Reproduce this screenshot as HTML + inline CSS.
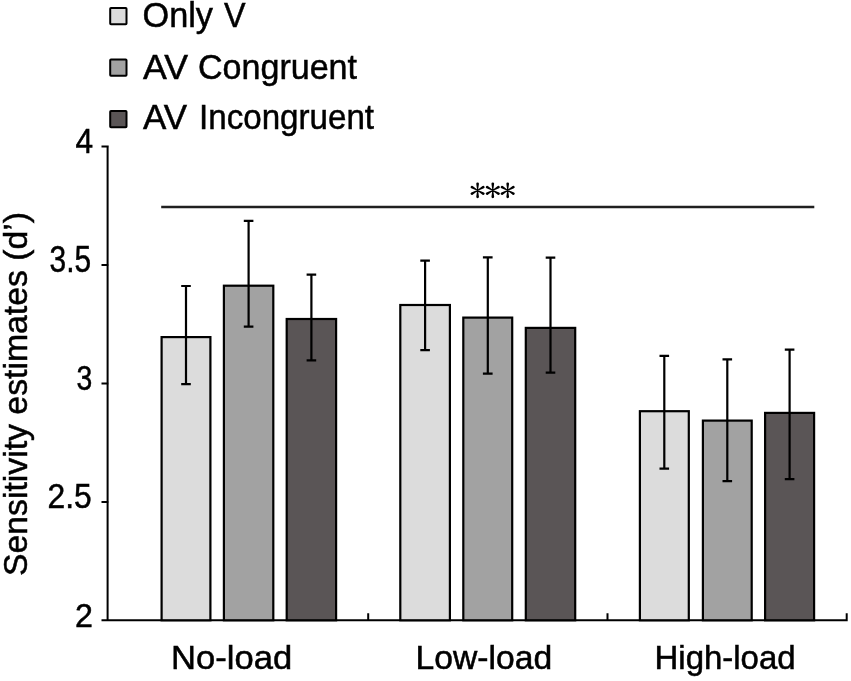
<!DOCTYPE html>
<html><head><meta charset="utf-8"><style>
html,body{margin:0;padding:0;background:#fff;}
svg{display:block;will-change:transform;}
text{font-family:"Liberation Sans",sans-serif;fill:#000;stroke:#000;stroke-width:0.5px;}
</style></head><body>
<svg width="851" height="681" viewBox="0 0 851 681">
<rect x="0" y="0" width="851" height="681" fill="#fff"/>
<rect x="110.2" y="7.9" width="16.3" height="16.3" fill="#dcdcdc" stroke="#000" stroke-width="2" rx="0.8"/>
<rect x="110.2" y="59.4" width="16.3" height="16.3" fill="#a2a2a2" stroke="#000" stroke-width="2" rx="0.8"/>
<rect x="110.2" y="110.9" width="16.3" height="16.3" fill="#5a5556" stroke="#000" stroke-width="2" rx="0.8"/>
<path d="M107.6 146.4V621.3M101.5 620.3H847.7M368.2 613.3V620M607.5 613.3V620M846.7 613.3V620M101.5 146.4H108.7M101.5 264.9H108.7M101.5 383.6H108.7M101.5 501.9H108.7M101.5 620.3H108.7" stroke="#000" stroke-width="2" fill="none"/>
<rect x="161.6" y="337.1" width="48.8" height="283.2" fill="#dcdcdc" stroke="#000" stroke-width="2.2"/>
<rect x="223.9" y="285.7" width="49.4" height="334.6" fill="#a2a2a2" stroke="#000" stroke-width="2.2"/>
<rect x="286.7" y="319.0" width="49.4" height="301.3" fill="#5a5556" stroke="#000" stroke-width="2.2"/>
<rect x="400.3" y="305.0" width="49.6" height="315.3" fill="#dcdcdc" stroke="#000" stroke-width="2.2"/>
<rect x="463.3" y="317.6" width="48.9" height="302.7" fill="#a2a2a2" stroke="#000" stroke-width="2.2"/>
<rect x="525.8" y="327.9" width="49.4" height="292.4" fill="#5a5556" stroke="#000" stroke-width="2.2"/>
<rect x="639.9" y="411.2" width="48.9" height="209.1" fill="#dcdcdc" stroke="#000" stroke-width="2.2"/>
<rect x="702.9" y="420.6" width="48.8" height="199.7" fill="#a2a2a2" stroke="#000" stroke-width="2.2"/>
<rect x="765.1" y="412.9" width="49.0" height="207.4" fill="#5a5556" stroke="#000" stroke-width="2.2"/>
<path d="M186.0 286.0V384.1M181.2 286.0H190.8M181.2 384.1H190.8" stroke="#000" stroke-width="2.2" fill="none"/>
<path d="M248.6 220.9V326.6M243.8 220.9H253.4M243.8 326.6H253.4" stroke="#000" stroke-width="2.2" fill="none"/>
<path d="M311.4 274.6V360.4M306.6 274.6H316.2M306.6 360.4H316.2" stroke="#000" stroke-width="2.2" fill="none"/>
<path d="M425.1 260.6V350.1M420.3 260.6H429.9M420.3 350.1H429.9" stroke="#000" stroke-width="2.2" fill="none"/>
<path d="M487.8 257.3V373.6M482.9 257.3H492.6M482.9 373.6H492.6" stroke="#000" stroke-width="2.2" fill="none"/>
<path d="M550.5 257.6V372.7M545.7 257.6H555.3M545.7 372.7H555.3" stroke="#000" stroke-width="2.2" fill="none"/>
<path d="M664.3 355.8V468.6M659.5 355.8H669.1M659.5 468.6H669.1" stroke="#000" stroke-width="2.2" fill="none"/>
<path d="M727.3 359.4V481.2M722.5 359.4H732.1M722.5 481.2H732.1" stroke="#000" stroke-width="2.2" fill="none"/>
<path d="M789.6 349.7V479.2M784.8 349.7H794.4M784.8 479.2H794.4" stroke="#000" stroke-width="2.2" fill="none"/>
<path d="M161.2 207H814.3" stroke="#202020" stroke-width="2.4" fill="none"/>
<path d="M477.15 190.30L476.25 196.80A1.35 1.35 0 0 0 478.95 196.80L478.05 190.30ZM477.38 190.69L482.55 194.72A1.35 1.35 0 0 0 483.90 192.38L477.83 189.91ZM477.83 190.69L483.90 188.22A1.35 1.35 0 0 0 482.55 185.88L477.38 189.91ZM478.05 190.30L478.95 183.80A1.35 1.35 0 0 0 476.25 183.80L477.15 190.30ZM477.83 189.91L472.65 185.88A1.35 1.35 0 0 0 471.30 188.22L477.38 190.69ZM477.38 189.91L471.30 192.38A1.35 1.35 0 0 0 472.65 194.72L477.83 190.69ZM492.35 190.30L491.45 196.80A1.35 1.35 0 0 0 494.15 196.80L493.25 190.30ZM492.57 190.69L497.75 194.72A1.35 1.35 0 0 0 499.10 192.38L493.03 189.91ZM493.03 190.69L499.10 188.22A1.35 1.35 0 0 0 497.75 185.88L492.57 189.91ZM493.25 190.30L494.15 183.80A1.35 1.35 0 0 0 491.45 183.80L492.35 190.30ZM493.03 189.91L487.85 185.88A1.35 1.35 0 0 0 486.50 188.22L492.57 190.69ZM492.57 189.91L486.50 192.38A1.35 1.35 0 0 0 487.85 194.72L493.03 190.69ZM507.25 190.30L506.35 196.80A1.35 1.35 0 0 0 509.05 196.80L508.15 190.30ZM507.47 190.69L512.65 194.72A1.35 1.35 0 0 0 514.00 192.38L507.93 189.91ZM507.93 190.69L514.00 188.22A1.35 1.35 0 0 0 512.65 185.88L507.47 189.91ZM508.15 190.30L509.05 183.80A1.35 1.35 0 0 0 506.35 183.80L507.25 190.30ZM507.93 189.91L502.75 185.88A1.35 1.35 0 0 0 501.40 188.22L507.47 190.69ZM507.47 189.91L501.40 192.38A1.35 1.35 0 0 0 502.75 194.72L507.93 190.69Z" fill="#000"/>
<text x="142.50" y="26.50" style="font-size:34.69px" textLength="70.52" lengthAdjust="spacingAndGlyphs">Only</text>
<text x="224.00" y="26.50" style="font-size:34.7px" textLength="21.59" lengthAdjust="spacingAndGlyphs">V</text>
<text x="143.00" y="78.50" style="font-size:35.27px" textLength="45.01" lengthAdjust="spacingAndGlyphs">AV</text>
<text x="198.00" y="78.50" style="font-size:35.27px" textLength="159.02" lengthAdjust="spacingAndGlyphs">Congruent</text>
<text x="143.00" y="129.40" style="font-size:35.5px" textLength="44.04" lengthAdjust="spacingAndGlyphs">AV</text>
<text x="199.00" y="129.40" style="font-size:35.5px" textLength="175.04" lengthAdjust="spacingAndGlyphs">Incongruent</text>
<text x="75.50" y="152.80" style="font-size:35.62px" textLength="17.60" lengthAdjust="spacingAndGlyphs">4</text>
<text x="49.50" y="271.50" style="font-size:36.22px" textLength="41.58" lengthAdjust="spacingAndGlyphs">3.5</text>
<text x="76.50" y="389.60" style="font-size:34.21px" textLength="15.78" lengthAdjust="spacingAndGlyphs">3</text>
<text x="47.50" y="508.20" style="font-size:34.43px" textLength="44.17" lengthAdjust="spacingAndGlyphs">2.5</text>
<text x="75.00" y="626.90" style="font-size:33.83px" textLength="17.91" lengthAdjust="spacingAndGlyphs">2</text>
<text x="171.00" y="669.10" style="font-size:32.32px" textLength="121.18" lengthAdjust="spacingAndGlyphs">No-load</text>
<text x="415.50" y="669.10" style="font-size:32.32px" textLength="136.61" lengthAdjust="spacingAndGlyphs">Low-load</text>
<text x="654.50" y="669.10" style="font-size:32.32px" textLength="141.09" lengthAdjust="spacingAndGlyphs">High-load</text>
<text transform="translate(27.00,576.00) rotate(-90)" x="0" y="0" style="font-size:33px" textLength="363.99" lengthAdjust="spacingAndGlyphs">Sensitivity estimates (d’)</text>
</svg>
</body></html>
